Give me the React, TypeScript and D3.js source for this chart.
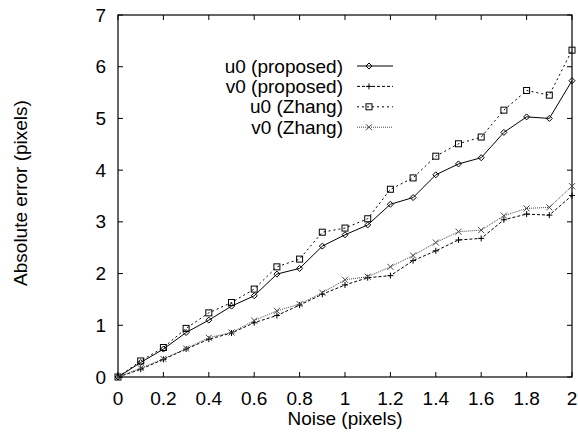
import React from "react";
import * as d3 from "d3";

const noise = [0, 0.1, 0.2, 0.3, 0.4, 0.5, 0.6, 0.7, 0.8, 0.9, 1.0, 1.1, 1.2, 1.3, 1.4, 1.5, 1.6, 1.7, 1.8, 1.9, 2.0];
const u0Proposed = [0, 0.28, 0.54, 0.86, 1.10, 1.37, 1.57, 1.99, 2.10, 2.53, 2.75, 2.94, 3.34, 3.47, 3.91, 4.12, 4.24, 4.73, 5.03, 5.00, 5.73];
const v0Proposed = [0, 0.15, 0.34, 0.54, 0.73, 0.85, 1.05, 1.19, 1.39, 1.60, 1.78, 1.92, 1.96, 2.25, 2.44, 2.65, 2.68, 3.04, 3.15, 3.13, 3.51];
const u0Zhang = [0, 0.31, 0.57, 0.94, 1.24, 1.44, 1.70, 2.13, 2.28, 2.80, 2.88, 3.06, 3.63, 3.85, 4.27, 4.51, 4.64, 5.16, 5.54, 5.45, 6.32];
const v0Zhang = [0, 0.17, 0.35, 0.55, 0.76, 0.86, 1.09, 1.28, 1.41, 1.63, 1.88, 1.94, 2.13, 2.35, 2.60, 2.81, 2.84, 3.12, 3.26, 3.28, 3.69];
const xTicks = [0, 0.2, 0.4, 0.6, 0.8, 1, 1.2, 1.4, 1.6, 1.8, 2];
const yTicks = [0, 1, 2, 3, 4, 5, 6, 7];
const seriesNames = ["u0 (proposed)", "v0 (proposed)", "u0 (Zhang)", "v0 (Zhang)"];

const W = 578, H = 432;
const left = 118, right = 572, top = 15, bottom = 377;
const FONT = "'Liberation Sans', Arial, Helvetica, sans-serif";

type Marker = "diamond" | "plus" | "square" | "cross";
const seriesData = [u0Proposed, v0Proposed, u0Zhang, v0Zhang];
const seriesStyle: { dash: string; color: string; marker: Marker }[] = [
  { dash: "", color: "#000", marker: "diamond" },
  { dash: "3,2", color: "#000", marker: "plus" },
  { dash: "2,3", color: "#000", marker: "square" },
  { dash: "1,1", color: "#444", marker: "cross" },
];

function MarkerShape({ type, x, y, color }: { type: Marker; x: number; y: number; color: string }) {
  const s = 3;
  if (type === "diamond")
    return <path d={`M${x},${y - s}L${x + s},${y}L${x},${y + s}L${x - s},${y}Z`} fill="none" stroke={color} strokeWidth={1} />;
  if (type === "plus")
    return <path d={`M${x - s},${y}H${x + s}M${x},${y - s}V${y + s}`} stroke={color} strokeWidth={1} />;
  if (type === "square")
    return <rect x={x - s} y={y - s} width={2 * s} height={2 * s} fill="none" stroke={color} strokeWidth={1} />;
  return <path d={`M${x - s},${y - s}L${x + s},${y + s}M${x - s},${y + s}L${x + s},${y - s}`} stroke={color} strokeWidth={1} />;
}

export default function App() {
  const x = d3.scaleLinear().domain([0, 2]).range([left, right]);
  const y = d3.scaleLinear().domain([0, 7]).range([bottom, top]);
  const line = d3.line<number>().x((_, i) => x(noise[i])).y((d) => y(d));
  const tick = 5;
  const legendX = 343, legY0 = 66, legDy = 20.4;

  return (
    <svg width={W} height={H} style={{ position: "absolute", left: 0, top: 0, background: "#fff" }} fontFamily={FONT}>
      <rect x={0} y={0} width={W} height={H} fill="#fff" />
      {xTicks.map((t) => (
        <g key={"xt" + t}>
          <line x1={x(t)} x2={x(t)} y1={bottom} y2={bottom - tick} stroke="#000" />
          <line x1={x(t)} x2={x(t)} y1={top} y2={top + tick} stroke="#000" />
          <text x={x(t)} y={405} fontSize={19} textAnchor="middle">{d3.format("")(t)}</text>
        </g>
      ))}
      {yTicks.map((t) => (
        <g key={"yt" + t}>
          <line x1={left} x2={left + tick} y1={y(t)} y2={y(t)} stroke="#000" />
          <line x1={right} x2={right - tick} y1={y(t)} y2={y(t)} stroke="#000" />
          <text x={106} y={y(t)} fontSize={19} textAnchor="end" dominantBaseline="central">{t}</text>
        </g>
      ))}
      <rect x={left} y={top} width={right - left} height={bottom - top} fill="none" stroke="#000" strokeWidth={1.2} />
      <text x={(left + right) / 2} y={425} fontSize={19} textAnchor="middle">Noise (pixels)</text>
      <text transform={`translate(20,${(top + bottom) / 2 - 3}) rotate(-90)`} fontSize={19} textAnchor="middle" dominantBaseline="central">
        Absolute error (pixels)
      </text>
      {seriesData.map((data, si) => {
        const st = seriesStyle[si];
        return (
          <g key={"s" + si}>
            <path d={line(data) || ""} fill="none" stroke={st.color} strokeWidth={1} strokeDasharray={st.dash} />
            {data.map((v, i) => (
              <MarkerShape key={i} type={st.marker} x={x(noise[i])} y={y(v)} color={st.color} />
            ))}
          </g>
        );
      })}
      {seriesNames.map((name, i) => {
        const st = seriesStyle[i];
        const ly = legY0 + i * legDy;
        return (
          <g key={"l" + i}>
            <text x={legendX} y={ly} fontSize={19} textAnchor="end" dominantBaseline="central">{name}</text>
            <line x1={357} x2={393} y1={ly} y2={ly} stroke={st.color} strokeWidth={1} strokeDasharray={st.dash} />
            <MarkerShape type={st.marker} x={369} y={ly} color={st.color} />
          </g>
        );
      })}
    </svg>
  );
}
